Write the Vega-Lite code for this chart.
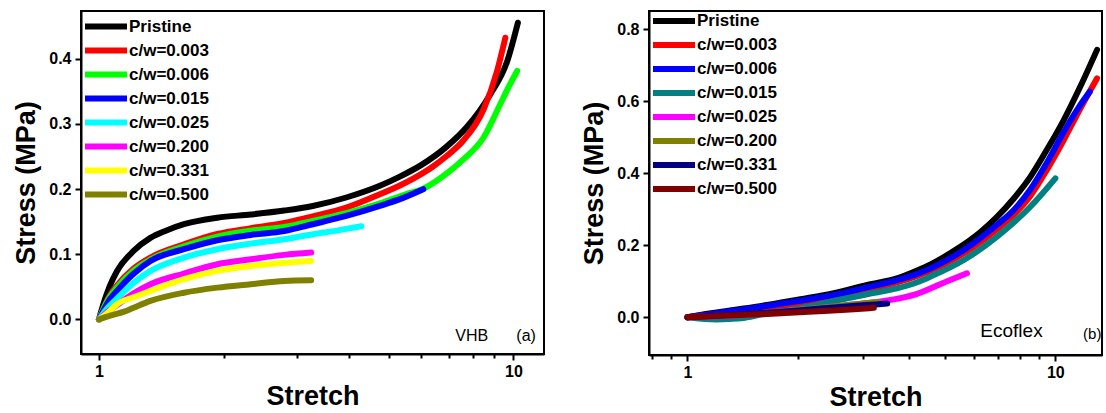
{
  "$schema": "https://vega.github.io/schema/vega-lite/v6.json",
  "padding": {"left": 11, "top": 10, "right": 0, "bottom": 0},
  "spacing": 34,
  "background": "white",
  "config": {
    "font": "Liberation Sans",
    "view": {"stroke": "black", "strokeWidth": 2},
    "axis": {
      "grid": false,
      "domainColor": "black",
      "domainWidth": 2,
      "tickColor": "black",
      "tickWidth": 2,
      "labelColor": "black",
      "labelFont": "Liberation Sans",
      "labelFontSize": 16,
      "labelFontWeight": "bold",
      "titleColor": "black",
      "titleFont": "Liberation Sans",
      "titleFontSize": 27,
      "titleFontWeight": "bold"
    },
    "legend": {
      "padding": 0,
      "labelFont": "Liberation Sans",
      "labelFontSize": 17,
      "labelFontWeight": "bold",
      "labelColor": "black",
      "symbolType": "M-3.5,0L3.5,0",
      "symbolSize": 144,
      "symbolStrokeWidth": 6,
      "labelOffset": 14,
      "rowPadding": 0,
      "labelLimit": 300
    }
  },
  "datasets": {
    "vhb": [
      {"s":"Pristine","x":1,"y":0},{"s":"Pristine","x":1.03,"y":0.028},{"s":"Pristine","x":1.06,"y":0.05},{"s":"Pristine","x":1.105,"y":0.074},{"s":"Pristine","x":1.212,"y":0.105},{"s":"Pristine","x":1.331,"y":0.125},{"s":"Pristine","x":1.45,"y":0.136},{"s":"Pristine","x":1.603,"y":0.146},{"s":"Pristine","x":1.93,"y":0.156},{"s":"Pristine","x":2.326,"y":0.161},{"s":"Pristine","x":2.8,"y":0.167},{"s":"Pristine","x":3.28,"y":0.174},{"s":"Pristine","x":3.95,"y":0.187},{"s":"Pristine","x":4.76,"y":0.205},{"s":"Pristine","x":5.32,"y":0.219},{"s":"Pristine","x":6.0,"y":0.237},{"s":"Pristine","x":6.9,"y":0.265},{"s":"Pristine","x":7.72,"y":0.295},{"s":"Pristine","x":8.79,"y":0.345},{"s":"Pristine","x":9.66,"y":0.396},{"s":"Pristine","x":10.25,"y":0.455},
      {"s":"c/w=0.003","x":1,"y":0},{"s":"c/w=0.003","x":1.03,"y":0.02},{"s":"c/w=0.003","x":1.06,"y":0.036},{"s":"c/w=0.003","x":1.105,"y":0.052},{"s":"c/w=0.003","x":1.212,"y":0.078},{"s":"c/w=0.003","x":1.331,"y":0.095},{"s":"c/w=0.003","x":1.603,"y":0.115},{"s":"c/w=0.003","x":1.93,"y":0.131},{"s":"c/w=0.003","x":2.326,"y":0.14},{"s":"c/w=0.003","x":2.8,"y":0.148},{"s":"c/w=0.003","x":3.28,"y":0.158},{"s":"c/w=0.003","x":3.95,"y":0.1715},{"s":"c/w=0.003","x":4.76,"y":0.192},{"s":"c/w=0.003","x":5.32,"y":0.2055},{"s":"c/w=0.003","x":5.73,"y":0.216},{"s":"c/w=0.003","x":6.41,"y":0.235},{"s":"c/w=0.003","x":6.91,"y":0.251},{"s":"c/w=0.003","x":7.56,"y":0.274},{"s":"c/w=0.003","x":8.47,"y":0.322},{"s":"c/w=0.003","x":9.13,"y":0.381},{"s":"c/w=0.003","x":9.56,"y":0.432},
      {"s":"c/w=0.006","x":1,"y":0},{"s":"c/w=0.006","x":1.03,"y":0.019},{"s":"c/w=0.006","x":1.06,"y":0.034},{"s":"c/w=0.006","x":1.105,"y":0.049},{"s":"c/w=0.006","x":1.212,"y":0.075},{"s":"c/w=0.006","x":1.331,"y":0.092},{"s":"c/w=0.006","x":1.603,"y":0.112},{"s":"c/w=0.006","x":1.93,"y":0.127},{"s":"c/w=0.006","x":2.326,"y":0.136},{"s":"c/w=0.006","x":2.8,"y":0.142},{"s":"c/w=0.006","x":3.28,"y":0.151},{"s":"c/w=0.006","x":3.95,"y":0.163},{"s":"c/w=0.006","x":4.76,"y":0.178},{"s":"c/w=0.006","x":5.5,"y":0.192},{"s":"c/w=0.006","x":6.06,"y":0.2005},{"s":"c/w=0.006","x":6.5,"y":0.212},{"s":"c/w=0.006","x":7.03,"y":0.2277},{"s":"c/w=0.006","x":7.56,"y":0.245},{"s":"c/w=0.006","x":8.47,"y":0.279},{"s":"c/w=0.006","x":9.29,"y":0.33},{"s":"c/w=0.006","x":9.8,"y":0.36},{"s":"c/w=0.006","x":10.21,"y":0.381},
      {"s":"c/w=0.015","x":1,"y":0},{"s":"c/w=0.015","x":1.03,"y":0.016},{"s":"c/w=0.015","x":1.06,"y":0.03},{"s":"c/w=0.015","x":1.105,"y":0.0437},{"s":"c/w=0.015","x":1.212,"y":0.07},{"s":"c/w=0.015","x":1.331,"y":0.0897},{"s":"c/w=0.015","x":1.603,"y":0.1077},{"s":"c/w=0.015","x":1.93,"y":0.1215},{"s":"c/w=0.015","x":2.326,"y":0.1296},{"s":"c/w=0.015","x":2.8,"y":0.1357},{"s":"c/w=0.015","x":3.28,"y":0.146},{"s":"c/w=0.015","x":3.95,"y":0.1587},{"s":"c/w=0.015","x":4.76,"y":0.174},{"s":"c/w=0.015","x":5.4,"y":0.186},{"s":"c/w=0.015","x":6.06,"y":0.1997},
      {"s":"c/w=0.025","x":1,"y":0},{"s":"c/w=0.025","x":1.05,"y":0.018},{"s":"c/w=0.025","x":1.105,"y":0.032},{"s":"c/w=0.025","x":1.212,"y":0.056},{"s":"c/w=0.025","x":1.331,"y":0.0744},{"s":"c/w=0.025","x":1.603,"y":0.0948},{"s":"c/w=0.025","x":1.93,"y":0.1077},{"s":"c/w=0.025","x":2.326,"y":0.1163},{"s":"c/w=0.025","x":2.8,"y":0.123},{"s":"c/w=0.025","x":3.28,"y":0.1307},{"s":"c/w=0.025","x":3.8,"y":0.137},{"s":"c/w=0.025","x":4.3,"y":0.143},
      {"s":"c/w=0.200","x":1,"y":0},{"s":"c/w=0.200","x":1.05,"y":0.012},{"s":"c/w=0.200","x":1.105,"y":0.022},{"s":"c/w=0.200","x":1.212,"y":0.04},{"s":"c/w=0.200","x":1.331,"y":0.054},{"s":"c/w=0.200","x":1.603,"y":0.0703},{"s":"c/w=0.200","x":1.93,"y":0.0847},{"s":"c/w=0.200","x":2.326,"y":0.0923},{"s":"c/w=0.200","x":2.8,"y":0.099},{"s":"c/w=0.200","x":3.25,"y":0.1025},
      {"s":"c/w=0.331","x":1,"y":0},{"s":"c/w=0.331","x":1.05,"y":0.01},{"s":"c/w=0.331","x":1.105,"y":0.0233},{"s":"c/w=0.331","x":1.212,"y":0.034},{"s":"c/w=0.331","x":1.331,"y":0.0437},{"s":"c/w=0.331","x":1.603,"y":0.0617},{"s":"c/w=0.331","x":1.93,"y":0.0744},{"s":"c/w=0.331","x":2.326,"y":0.082},{"s":"c/w=0.331","x":2.8,"y":0.087},{"s":"c/w=0.331","x":3.25,"y":0.0897},
      {"s":"c/w=0.500","x":1,"y":0},{"s":"c/w=0.500","x":1.08,"y":0.007},{"s":"c/w=0.500","x":1.15,"y":0.012},{"s":"c/w=0.500","x":1.212,"y":0.018},{"s":"c/w=0.500","x":1.331,"y":0.0284},{"s":"c/w=0.500","x":1.603,"y":0.041},{"s":"c/w=0.500","x":1.93,"y":0.0488},{"s":"c/w=0.500","x":2.326,"y":0.054},{"s":"c/w=0.500","x":2.8,"y":0.059},{"s":"c/w=0.500","x":3.25,"y":0.06}
    ],
    "eco": [
      {"s":"Pristine","x":1,"y":0},{"s":"Pristine","x":1.085,"y":0.0064},{"s":"Pristine","x":1.337,"y":0.02},{"s":"Pristine","x":1.647,"y":0.034},{"s":"Pristine","x":2.03,"y":0.05},{"s":"Pristine","x":2.5,"y":0.067},{"s":"Pristine","x":3.08,"y":0.09},{"s":"Pristine","x":3.71,"y":0.108},{"s":"Pristine","x":4.21,"y":0.13},{"s":"Pristine","x":4.58,"y":0.147},{"s":"Pristine","x":5.41,"y":0.19},{"s":"Pristine","x":6.26,"y":0.237},{"s":"Pristine","x":6.94,"y":0.279},{"s":"Pristine","x":7.71,"y":0.33},{"s":"Pristine","x":8.55,"y":0.39},{"s":"Pristine","x":9.49,"y":0.466},{"s":"Pristine","x":10.54,"y":0.548},{"s":"Pristine","x":11.69,"y":0.641},{"s":"Pristine","x":12.98,"y":0.743},
      {"s":"c/w=0.003","x":1,"y":0},{"s":"c/w=0.003","x":1.5,"y":0.02},{"s":"c/w=0.003","x":2,"y":0.038},{"s":"c/w=0.003","x":2.5,"y":0.055},{"s":"c/w=0.003","x":3.08,"y":0.077},{"s":"c/w=0.003","x":3.71,"y":0.097},{"s":"c/w=0.003","x":4.21,"y":0.115},{"s":"c/w=0.003","x":5.0,"y":0.148},{"s":"c/w=0.003","x":5.64,"y":0.178},{"s":"c/w=0.003","x":6.94,"y":0.245},{"s":"c/w=0.003","x":7.71,"y":0.285},{"s":"c/w=0.003","x":8.55,"y":0.337},{"s":"c/w=0.003","x":9.49,"y":0.41},{"s":"c/w=0.003","x":10.54,"y":0.4925},{"s":"c/w=0.003","x":11.69,"y":0.58},{"s":"c/w=0.003","x":12.98,"y":0.664},
      {"s":"c/w=0.006","x":1,"y":0},{"s":"c/w=0.006","x":1.5,"y":0.025},{"s":"c/w=0.006","x":2,"y":0.045},{"s":"c/w=0.006","x":2.5,"y":0.062},{"s":"c/w=0.006","x":3.08,"y":0.083},{"s":"c/w=0.006","x":3.71,"y":0.103},{"s":"c/w=0.006","x":4.21,"y":0.12},{"s":"c/w=0.006","x":5.0,"y":0.155},{"s":"c/w=0.006","x":5.64,"y":0.187},{"s":"c/w=0.006","x":6.94,"y":0.257},{"s":"c/w=0.006","x":7.71,"y":0.298},{"s":"c/w=0.006","x":8.55,"y":0.355},{"s":"c/w=0.006","x":9.49,"y":0.43},{"s":"c/w=0.006","x":10.54,"y":0.515},{"s":"c/w=0.006","x":11.69,"y":0.59},{"s":"c/w=0.006","x":12.41,"y":0.627},
      {"s":"c/w=0.015","x":1,"y":0},{"s":"c/w=0.015","x":1.2,"y":-0.006},{"s":"c/w=0.015","x":1.4,"y":-0.003},{"s":"c/w=0.015","x":1.6,"y":0.008},{"s":"c/w=0.015","x":2.03,"y":0.025},{"s":"c/w=0.015","x":2.5,"y":0.045},{"s":"c/w=0.015","x":3.08,"y":0.064},{"s":"c/w=0.015","x":3.71,"y":0.08},{"s":"c/w=0.015","x":4.21,"y":0.097},{"s":"c/w=0.015","x":4.58,"y":0.113},{"s":"c/w=0.015","x":5.64,"y":0.159},{"s":"c/w=0.015","x":6.94,"y":0.224},{"s":"c/w=0.015","x":8.55,"y":0.307},{"s":"c/w=0.015","x":10.0,"y":0.386},
      {"s":"c/w=0.025","x":1,"y":0},{"s":"c/w=0.025","x":1.5,"y":0.008},{"s":"c/w=0.025","x":2,"y":0.02},{"s":"c/w=0.025","x":2.5,"y":0.03},{"s":"c/w=0.025","x":3.0,"y":0.038},{"s":"c/w=0.025","x":3.42,"y":0.045},{"s":"c/w=0.025","x":4.21,"y":0.065},{"s":"c/w=0.025","x":5.08,"y":0.1},{"s":"c/w=0.025","x":5.75,"y":0.122},
      {"s":"c/w=0.200","x":1,"y":0},{"s":"c/w=0.200","x":1.5,"y":0.01},{"s":"c/w=0.200","x":2,"y":0.02},{"s":"c/w=0.200","x":2.5,"y":0.03},{"s":"c/w=0.200","x":3.3,"y":0.042},
      {"s":"c/w=0.331","x":1,"y":0},{"s":"c/w=0.331","x":1.5,"y":0.01},{"s":"c/w=0.331","x":2,"y":0.019},{"s":"c/w=0.331","x":2.5,"y":0.027},{"s":"c/w=0.331","x":3.0,"y":0.033},{"s":"c/w=0.331","x":3.49,"y":0.038},
      {"s":"c/w=0.500","x":1,"y":0},{"s":"c/w=0.500","x":1.647,"y":0.009},{"s":"c/w=0.500","x":2.2,"y":0.016},{"s":"c/w=0.500","x":2.7,"y":0.021},{"s":"c/w=0.500","x":3.21,"y":0.026}
    ],
    "notesA": [
      {"x": 7.93, "y": -0.025, "t": "VHB"},
      {"x": 10.73, "y": -0.025, "t": "(a)"}
    ],
    "notesB": [
      {"x": 7.6, "y": -0.038, "t": "Ecoflex"},
      {"x": 12.6, "y": -0.047, "t": "(b)"}
    ]
  },
  "resolve": {"scale": {"color": "independent", "x": "independent", "y": "independent"}, "legend": {"color": "independent"}},
  "hconcat": [
    {
      "width": 463,
      "height": 343,
      "layer": [
        {
          "data": {"name": "vhb"},
          "mark": {"type": "line", "strokeWidth": 6, "strokeCap": "round", "strokeJoin": "round", "interpolate": "monotone", "clip": true},
          "encoding": {
            "x": {
              "field": "x", "type": "quantitative", "title": "Stretch",
              "scale": {"type": "log", "domain": [0.905, 11.85], "nice": false},
              "axis": {
                "values": [0.9, 1, 2, 3, 4, 5, 6, 7, 8, 9, 10],
                "labelExpr": "datum.value == 1 ? '1' : (datum.value == 10 ? '10' : '')",
                "tickSize": {"condition": {"test": "datum.value == 1 || datum.value == 10", "value": 6}, "value": 4},
                "labelOverlap": false,
                "labelFlush": false,
                "labelPadding": 3,
                "titlePadding": 4
              }
            },
            "y": {
              "field": "y", "type": "quantitative", "title": "Stress (MPa)",
              "scale": {"domain": [-0.053, 0.473], "nice": false, "zero": false},
              "axis": {
                "values": [0, 0.1, 0.2, 0.3, 0.4],
                "format": ".1f",
                "tickSize": 6,
                "labelPadding": 4,
                "titlePadding": 8
              }
            },
            "color": {
              "field": "s", "type": "nominal",
              "scale": {
                "domain": ["Pristine", "c/w=0.003", "c/w=0.006", "c/w=0.015", "c/w=0.025", "c/w=0.200", "c/w=0.331", "c/w=0.500"],
                "range": ["#000000", "#FF0000", "#00FF00", "#0000FF", "#00FFFF", "#FF00FF", "#FFFF00", "#808000"]
              },
              "legend": {"title": null, "orient": "none", "legendX": 16, "legendY": 6.5}
            }
          }
        },
        {
          "data": {"name": "notesA"},
          "mark": {"type": "text", "fontSize": 16, "font": "Liberation Sans", "color": "black", "align": "center", "baseline": "middle"},
          "encoding": {
            "x": {"field": "x", "type": "quantitative"},
            "y": {"field": "y", "type": "quantitative"},
            "text": {"field": "t"}
          }
        }
      ]
    },
    {
      "width": 453,
      "height": 344,
      "layer": [
        {
          "data": {"name": "eco"},
          "mark": {"type": "line", "strokeWidth": 6, "strokeCap": "round", "strokeJoin": "round", "interpolate": "monotone", "clip": true},
          "encoding": {
            "x": {
              "field": "x", "type": "quantitative", "title": "Stretch",
              "scale": {"type": "log", "domain": [0.786, 13.39], "nice": false},
              "axis": {
                "values": [0.8, 0.9, 1, 2, 3, 4, 5, 6, 7, 8, 9, 10],
                "labelExpr": "datum.value == 1 ? '1' : (datum.value == 10 ? '10' : '')",
                "tickSize": {"condition": {"test": "datum.value == 1 || datum.value == 10", "value": 6}, "value": 4},
                "labelOverlap": false,
                "labelFlush": false,
                "labelPadding": 3,
                "titlePadding": 4
              }
            },
            "y": {
              "field": "y", "type": "quantitative", "title": "Stress (MPa)",
              "scale": {"domain": [-0.105, 0.851], "nice": false, "zero": false},
              "axis": {
                "values": [0, 0.2, 0.4, 0.6, 0.8],
                "format": ".1f",
                "tickSize": 6,
                "labelPadding": 4,
                "titlePadding": 8
              }
            },
            "color": {
              "field": "s", "type": "nominal",
              "scale": {
                "domain": ["Pristine", "c/w=0.003", "c/w=0.006", "c/w=0.015", "c/w=0.025", "c/w=0.200", "c/w=0.331", "c/w=0.500"],
                "range": ["#000000", "#FF0000", "#0000FF", "#008080", "#FF00FF", "#808000", "#000080", "#800000"]
              },
              "legend": {"title": null, "orient": "none", "legendX": 16, "legendY": 1}
            }
          }
        },
        {
          "data": {"name": "notesB"},
          "mark": {"type": "text", "font": "Liberation Sans", "color": "black", "align": "center", "baseline": "middle"},
          "encoding": {
            "x": {"field": "x", "type": "quantitative"},
            "y": {"field": "y", "type": "quantitative"},
            "text": {"field": "t"},
            "size": {"field": "t", "type": "nominal", "scale": {"domain": ["Ecoflex", "(b)"], "range": [19, 15]}, "legend": null}
          }
        }
      ]
    }
  ]
}
